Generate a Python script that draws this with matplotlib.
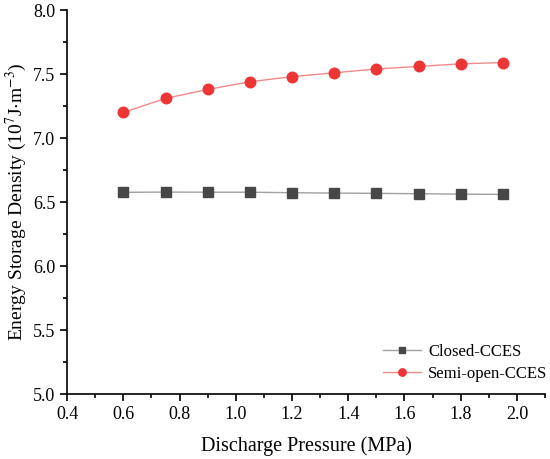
import matplotlib
matplotlib.use('Agg')
import matplotlib.pyplot as plt
from matplotlib.ticker import MultipleLocator

plt.rcParams['font.family'] = 'serif'
plt.rcParams['font.serif'] = ['Liberation Serif', 'DejaVu Serif']
plt.rcParams['mathtext.fontset'] = 'stix'

# data
pressure = [0.6, 0.75, 0.9, 1.05, 1.2, 1.35, 1.5, 1.65, 1.8, 1.95]
closed = [6.576, 6.578, 6.577, 6.577, 6.573, 6.570, 6.568, 6.565, 6.562, 6.560]
semi_open = [7.20, 7.31, 7.38, 7.44, 7.48, 7.51, 7.54, 7.56, 7.58, 7.59]
xticks = [0.4, 0.6, 0.8, 1.0, 1.2, 1.4, 1.6, 1.8, 2.0]

fig = plt.figure(figsize=(5.5, 4.59), dpi=100)
ax = fig.add_axes([0.122, 0.1416, 0.869, 0.8364])

ax.plot(pressure, closed, color='#a0a0a0', lw=1, marker='s', ms=6.8,
        mfc='#474747', mec='#474747', label='Closed-CCES')
ax.plot(pressure, semi_open, color='#f08a8a', lw=1, marker='o', ms=7.6,
        mfc='#ee3535', mec='#ee3535', label='Semi-open-CCES')

ax.set_xlim(0.4, 2.1)
ax.set_ylim(5.0, 8.0)
ax.set_xticks(xticks)
ax.set_xticklabels(['%.1f' % v for v in xticks])
ax.xaxis.set_minor_locator(MultipleLocator(0.1))
ax.yaxis.set_major_locator(MultipleLocator(0.5))
ax.yaxis.set_minor_locator(MultipleLocator(0.25))

ax.spines['top'].set_visible(False)
ax.spines['right'].set_visible(False)
for s in ['left', 'bottom']:
    ax.spines[s].set_linewidth(1.2)
ax.tick_params(which='major', direction='out', length=5, width=1.2, labelsize=13)
ax.tick_params(which='minor', direction='out', length=3, width=1.2)
for lab in ax.get_xticklabels() + ax.get_yticklabels():
    lab.set_fontfamily('Liberation Serif')

ax.set_xlabel('Discharge Pressure (MPa)', fontsize=14.5, labelpad=10)
ax.set_ylabel(r'Energy Storage Density (10$^7$J$\cdot$m$^{-3}$)', fontsize=14, labelpad=3)

ax.legend(loc='lower right', frameon=False, fontsize=12, handlelength=2.3,
          bbox_to_anchor=(1.036, -0.007), labelspacing=0.35, markerscale=0.7,
          handletextpad=0.4)

fig.savefig('out.png', dpi=100)
